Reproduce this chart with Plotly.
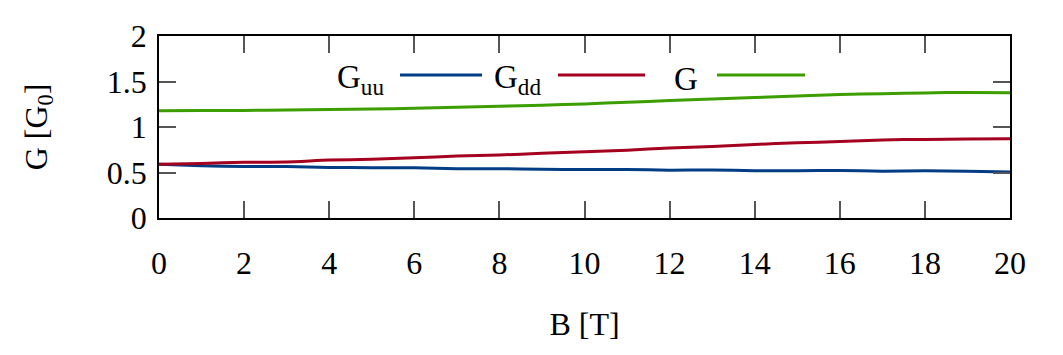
import plotly.graph_objects as go

B = [0, 1, 2, 3, 4, 5, 6, 7, 8, 9, 10, 11, 12, 13, 14, 15, 16, 17, 18, 19, 20]
G_uu = [0.590, 0.575, 0.566, 0.566, 0.556, 0.552, 0.551, 0.542, 0.542, 0.536, 0.533, 0.534, 0.525, 0.528, 0.520, 0.520, 0.523, 0.514, 0.518, 0.514, 0.505]
G_dd = [0.590, 0.600, 0.612, 0.616, 0.636, 0.645, 0.662, 0.680, 0.692, 0.712, 0.727, 0.744, 0.770, 0.785, 0.808, 0.826, 0.840, 0.858, 0.864, 0.868, 0.870]
G_tot = [1.178, 1.180, 1.182, 1.186, 1.192, 1.198, 1.206, 1.216, 1.228, 1.240, 1.254, 1.272, 1.290, 1.308, 1.325, 1.340, 1.356, 1.366, 1.375, 1.380, 1.376]

names = ["G<sub>uu</sub>", "G<sub>dd</sub>", "G"]
colors = ["#003d85", "#a5001f", "#3c9e00"]
series = [G_uu, G_dd, G_tot]

FONT = "Liberation Serif"
FS = 32
fig = go.Figure()
for name, col, ys in zip(names, colors, series):
    fig.add_trace(go.Scatter(x=B, y=ys, mode="lines", name=name,
                             line=dict(color=col, width=3, shape="spline", smoothing=0.6),
                             showlegend=False))

# legend drawn manually (text left of sample line)
L, R, T, BOT = 159, 53, 36, 137
W, H = 1063 - L - R, 355 - T - BOT
def px(xp):
    return (xp - L) / W
def py(yp):
    return (355 - BOT - yp) / H

leg = [(386, 400, 482), (543, 558, 645), (700, 717, 805)]
for (tx, x0, x1), name, col in zip(leg, names, colors):
    fig.add_annotation(x=px(tx), y=py(79), xref="paper", yref="paper", text=name,
                       showarrow=False, xanchor="right", yanchor="middle",
                       font=dict(family=FONT, size=33, color="black"))
    fig.add_shape(type="line", xref="paper", yref="paper", x0=px(x0), x1=px(x1),
                  y0=py(75), y1=py(75), line=dict(color=col, width=3))

axis_common = dict(showline=True, linecolor="black", linewidth=1.5, mirror="ticks",
                   ticks="inside", ticklen=17, tickwidth=1.5, tickcolor="#555",
                   showgrid=False, zeroline=False,
                   tickfont=dict(family=FONT, size=FS, color="black"))
fig.update_xaxes(range=[0, 20], dtick=2, tick0=0, ticklabelstandoff=16,
                 title=dict(text="B [T]", font=dict(family=FONT, size=FS, color="black"), standoff=32),
                 **axis_common)
fig.update_yaxes(range=[0, 2], dtick=0.5, tick0=0, ticklabelstandoff=4,
                 title=dict(text="G [G<sub>0</sub>]", font=dict(family=FONT, size=FS, color="black"), standoff=50),
                 **axis_common)
fig.update_layout(width=1063, height=355, margin=dict(l=L, r=R, t=T, b=BOT),
                  plot_bgcolor="white", paper_bgcolor="white")
fig.write_html("out.html")
